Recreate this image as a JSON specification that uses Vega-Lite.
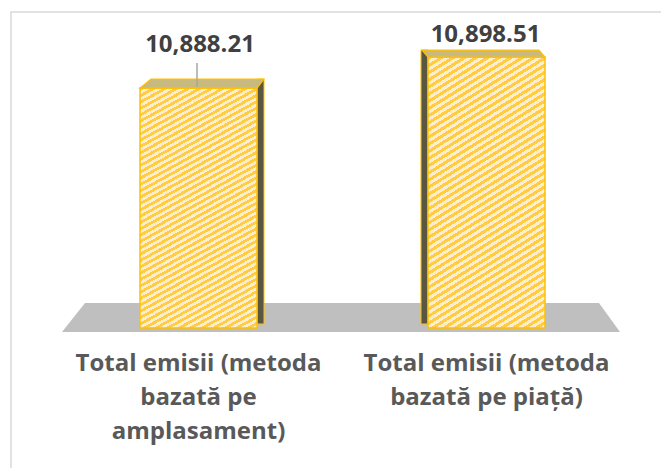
{
  "$schema": "https://vega.github.io/schema/vega-lite/v6.json",
  "width": 700,
  "height": 500,
  "autosize": {"type": "none"},
  "padding": {"left": 11, "top": 12, "right": 0, "bottom": 0},
  "background": "white",
  "config": {"view": {"stroke": "#D9D9D9", "strokeWidth": 1.5}},
  "data": {"values": [
    {"cat": "Total emisii (metoda bazată pe amplasament)", "value": 10888.21},
    {"cat": "Total emisii (metoda bazată pe piață)", "value": 10898.51}
  ]},
  "encoding": {
    "x": {"field": "cat", "type": "nominal", "sort": null,
      "scale": {"range": [43.5, 619.5], "paddingInner": 0, "paddingOuter": 0},
      "axis": {"title": null, "domain": false, "ticks": false, "tickSize": 0, "grid": false, "labelPadding": 0, "offset": -160.5, "labelAngle": 0, "labelFont": "Open Sans", "labelFontWeight": "bold", "labelFontSize": 24, "labelColor": "#595959", "labelLineHeight": 34, "labelLimit": 0, "labelOverlap": false, "labelFlush": false, "labelBaseline": "top",
        "labelExpr": "indexof(datum.value, 'amplasament') >= 0 ? ['Total emisii (metoda', 'bazată pe', 'amplasament)'] : ['Total emisii (metoda', 'bazată pe piață)']"}},
    "y": {"field": "value", "type": "quantitative", "scale": {"domain": [10747.36, 10913.49], "nice": false, "zero": false}, "axis": null}
  },
  "layer": [
    {
      "transform": [{"filter": {"field": "cat", "equal": "Total emisii (metoda bazată pe amplasament)"}}],
      "mark": {"type": "point", "shape": "M -2.805 0.04 L 2.775 0.04 L 2.565 -0.25 L -2.575 -0.25 Z", "size": 40000, "filled": true, "fill": "#BFBFBF", "opacity": 1, "strokeWidth": 0},
      "encoding": {
        "x": {"field": "cat", "type": "nominal", "sort": null, "bandPosition": 1,
          "axis": {"title": null, "domain": false, "ticks": false, "tickSize": 0, "grid": false, "labelPadding": 0, "offset": -160.5, "labelAngle": 0, "labelFont": "Open Sans", "labelFontWeight": "bold", "labelFontSize": 24, "labelColor": "#595959", "labelLineHeight": 34, "labelLimit": 0, "labelOverlap": false, "labelFlush": false, "labelBaseline": "top",
            "labelExpr": "indexof(datum.value, 'amplasament') >= 0 ? ['Total emisii (metoda', 'bazată pe', 'amplasament)'] : ['Total emisii (metoda', 'bazată pe piață)']"}},
        "y": {"datum": 10808.5}
      }
    },
    {
      "transform": [{"filter": {"field": "cat", "equal": "Total emisii (metoda bazată pe amplasament)"}}],
      "mark": {"type": "bar", "width": 7, "xOffset": 62, "yOffset": -9, "y2Offset": -4, "fill": "#5A563F", "stroke": "#FFC000", "strokeWidth": 1},
      "encoding": {"y2": {"datum": 10808.5}}
    },
    {
      "transform": [{"filter": {"field": "cat", "equal": "Total emisii (metoda bazată pe piață)"}}],
      "mark": {"type": "bar", "width": 7, "xOffset": -62, "yOffset": -7, "y2Offset": -4, "fill": "#5A563F", "stroke": "#FFC000", "strokeWidth": 1},
      "encoding": {"y2": {"datum": 10808.5}}
    },
    {
      "mark": {"type": "bar", "width": 117, "stroke": "#FFC000", "strokeWidth": 1.5,
        "fill": {"gradient": "linear", "x1": 0, "y1": 0, "x2": 0.317, "y2": 1.183, "stops": [
          {"offset":0,"color":"#fc4"},{"offset":0.0104,"color":"#fc4"},{"offset":0.0104,"color":"#fec"},{"offset":0.0208,"color":"#fec"},
          {"offset":0.0208,"color":"#fc4"},{"offset":0.0313,"color":"#fc4"},{"offset":0.0313,"color":"#fec"},{"offset":0.0417,"color":"#fec"},
          {"offset":0.0417,"color":"#fc4"},{"offset":0.0521,"color":"#fc4"},{"offset":0.0521,"color":"#fec"},{"offset":0.0625,"color":"#fec"},
          {"offset":0.0625,"color":"#fc4"},{"offset":0.0729,"color":"#fc4"},{"offset":0.0729,"color":"#fec"},{"offset":0.0833,"color":"#fec"},
          {"offset":0.0833,"color":"#fc4"},{"offset":0.0938,"color":"#fc4"},{"offset":0.0938,"color":"#fec"},{"offset":0.1042,"color":"#fec"},
          {"offset":0.1042,"color":"#fc4"},{"offset":0.1146,"color":"#fc4"},{"offset":0.1146,"color":"#fec"},{"offset":0.125,"color":"#fec"},
          {"offset":0.125,"color":"#fc4"},{"offset":0.1354,"color":"#fc4"},{"offset":0.1354,"color":"#fec"},{"offset":0.1458,"color":"#fec"},
          {"offset":0.1458,"color":"#fc4"},{"offset":0.1563,"color":"#fc4"},{"offset":0.1563,"color":"#fec"},{"offset":0.1667,"color":"#fec"},
          {"offset":0.1667,"color":"#fc4"},{"offset":0.1771,"color":"#fc4"},{"offset":0.1771,"color":"#fec"},{"offset":0.1875,"color":"#fec"},
          {"offset":0.1875,"color":"#fc4"},{"offset":0.1979,"color":"#fc4"},{"offset":0.1979,"color":"#fec"},{"offset":0.2083,"color":"#fec"},
          {"offset":0.2083,"color":"#fc4"},{"offset":0.2188,"color":"#fc4"},{"offset":0.2188,"color":"#fec"},{"offset":0.2292,"color":"#fec"},
          {"offset":0.2292,"color":"#fc4"},{"offset":0.2396,"color":"#fc4"},{"offset":0.2396,"color":"#fec"},{"offset":0.25,"color":"#fec"},
          {"offset":0.25,"color":"#fc4"},{"offset":0.2604,"color":"#fc4"},{"offset":0.2604,"color":"#fec"},{"offset":0.2708,"color":"#fec"},
          {"offset":0.2708,"color":"#fc4"},{"offset":0.2813,"color":"#fc4"},{"offset":0.2813,"color":"#fec"},{"offset":0.2917,"color":"#fec"},
          {"offset":0.2917,"color":"#fc4"},{"offset":0.3021,"color":"#fc4"},{"offset":0.3021,"color":"#fec"},{"offset":0.3125,"color":"#fec"},
          {"offset":0.3125,"color":"#fc4"},{"offset":0.3229,"color":"#fc4"},{"offset":0.3229,"color":"#fec"},{"offset":0.3333,"color":"#fec"},
          {"offset":0.3333,"color":"#fc4"},{"offset":0.3438,"color":"#fc4"},{"offset":0.3438,"color":"#fec"},{"offset":0.3542,"color":"#fec"},
          {"offset":0.3542,"color":"#fc4"},{"offset":0.3646,"color":"#fc4"},{"offset":0.3646,"color":"#fec"},{"offset":0.375,"color":"#fec"},
          {"offset":0.375,"color":"#fc4"},{"offset":0.3854,"color":"#fc4"},{"offset":0.3854,"color":"#fec"},{"offset":0.3958,"color":"#fec"},
          {"offset":0.3958,"color":"#fc4"},{"offset":0.4063,"color":"#fc4"},{"offset":0.4063,"color":"#fec"},{"offset":0.4167,"color":"#fec"},
          {"offset":0.4167,"color":"#fc4"},{"offset":0.4271,"color":"#fc4"},{"offset":0.4271,"color":"#fec"},{"offset":0.4375,"color":"#fec"},
          {"offset":0.4375,"color":"#fc4"},{"offset":0.4479,"color":"#fc4"},{"offset":0.4479,"color":"#fec"},{"offset":0.4583,"color":"#fec"},
          {"offset":0.4583,"color":"#fc4"},{"offset":0.4688,"color":"#fc4"},{"offset":0.4688,"color":"#fec"},{"offset":0.4792,"color":"#fec"},
          {"offset":0.4792,"color":"#fc4"},{"offset":0.4896,"color":"#fc4"},{"offset":0.4896,"color":"#fec"},{"offset":0.5,"color":"#fec"},
          {"offset":0.5,"color":"#fc4"},{"offset":0.5104,"color":"#fc4"},{"offset":0.5104,"color":"#fec"},{"offset":0.5208,"color":"#fec"},
          {"offset":0.5208,"color":"#fc4"},{"offset":0.5313,"color":"#fc4"},{"offset":0.5313,"color":"#fec"},{"offset":0.5417,"color":"#fec"},
          {"offset":0.5417,"color":"#fc4"},{"offset":0.5521,"color":"#fc4"},{"offset":0.5521,"color":"#fec"},{"offset":0.5625,"color":"#fec"},
          {"offset":0.5625,"color":"#fc4"},{"offset":0.5729,"color":"#fc4"},{"offset":0.5729,"color":"#fec"},{"offset":0.5833,"color":"#fec"},
          {"offset":0.5833,"color":"#fc4"},{"offset":0.5938,"color":"#fc4"},{"offset":0.5938,"color":"#fec"},{"offset":0.6042,"color":"#fec"},
          {"offset":0.6042,"color":"#fc4"},{"offset":0.6146,"color":"#fc4"},{"offset":0.6146,"color":"#fec"},{"offset":0.625,"color":"#fec"},
          {"offset":0.625,"color":"#fc4"},{"offset":0.6354,"color":"#fc4"},{"offset":0.6354,"color":"#fec"},{"offset":0.6458,"color":"#fec"},
          {"offset":0.6458,"color":"#fc4"},{"offset":0.6563,"color":"#fc4"},{"offset":0.6563,"color":"#fec"},{"offset":0.6667,"color":"#fec"},
          {"offset":0.6667,"color":"#fc4"},{"offset":0.6771,"color":"#fc4"},{"offset":0.6771,"color":"#fec"},{"offset":0.6875,"color":"#fec"},
          {"offset":0.6875,"color":"#fc4"},{"offset":0.6979,"color":"#fc4"},{"offset":0.6979,"color":"#fec"},{"offset":0.7083,"color":"#fec"},
          {"offset":0.7083,"color":"#fc4"},{"offset":0.7188,"color":"#fc4"},{"offset":0.7188,"color":"#fec"},{"offset":0.7292,"color":"#fec"},
          {"offset":0.7292,"color":"#fc4"},{"offset":0.7396,"color":"#fc4"},{"offset":0.7396,"color":"#fec"},{"offset":0.75,"color":"#fec"},
          {"offset":0.75,"color":"#fc4"},{"offset":0.7604,"color":"#fc4"},{"offset":0.7604,"color":"#fec"},{"offset":0.7708,"color":"#fec"},
          {"offset":0.7708,"color":"#fc4"},{"offset":0.7813,"color":"#fc4"},{"offset":0.7813,"color":"#fec"},{"offset":0.7917,"color":"#fec"},
          {"offset":0.7917,"color":"#fc4"},{"offset":0.8021,"color":"#fc4"},{"offset":0.8021,"color":"#fec"},{"offset":0.8125,"color":"#fec"},
          {"offset":0.8125,"color":"#fc4"},{"offset":0.8229,"color":"#fc4"},{"offset":0.8229,"color":"#fec"},{"offset":0.8333,"color":"#fec"},
          {"offset":0.8333,"color":"#fc4"},{"offset":0.8438,"color":"#fc4"},{"offset":0.8438,"color":"#fec"},{"offset":0.8542,"color":"#fec"},
          {"offset":0.8542,"color":"#fc4"},{"offset":0.8646,"color":"#fc4"},{"offset":0.8646,"color":"#fec"},{"offset":0.875,"color":"#fec"},
          {"offset":0.875,"color":"#fc4"},{"offset":0.8854,"color":"#fc4"},{"offset":0.8854,"color":"#fec"},{"offset":0.8958,"color":"#fec"},
          {"offset":0.8958,"color":"#fc4"},{"offset":0.9063,"color":"#fc4"},{"offset":0.9063,"color":"#fec"},{"offset":0.9167,"color":"#fec"},
          {"offset":0.9167,"color":"#fc4"},{"offset":0.9271,"color":"#fc4"},{"offset":0.9271,"color":"#fec"},{"offset":0.9375,"color":"#fec"},
          {"offset":0.9375,"color":"#fc4"},{"offset":0.9479,"color":"#fc4"},{"offset":0.9479,"color":"#fec"},{"offset":0.9583,"color":"#fec"},
          {"offset":0.9583,"color":"#fc4"},{"offset":0.9688,"color":"#fc4"},{"offset":0.9688,"color":"#fec"},{"offset":0.9792,"color":"#fec"},
          {"offset":0.9792,"color":"#fc4"},{"offset":0.9896,"color":"#fc4"},{"offset":0.9896,"color":"#fec"},{"offset":1,"color":"#fec"}
        ]}},
      "encoding": {"y2": {"datum": 10808.5}}
    },
    {
      "transform": [{"filter": {"field": "cat", "equal": "Total emisii (metoda bazată pe amplasament)"}}],
      "mark": {"type": "point", "shape": "M -0.585 0 L 0.585 0 L 0.655 -0.09 L -0.475 -0.09 Z", "size": 40000, "filled": true, "fill": "#C8B97F", "opacity": 1, "stroke": "#FFC000", "strokeWidth": 1.2}
    },
    {
      "transform": [{"filter": {"field": "cat", "equal": "Total emisii (metoda bazată pe piață)"}}],
      "mark": {"type": "point", "shape": "M -0.585 0 L 0.585 0 L 0.525 -0.07 L -0.645 -0.07 Z", "size": 40000, "filled": true, "fill": "#C8B97F", "opacity": 1, "stroke": "#FFC000", "strokeWidth": 1.2}
    },
    {
      "transform": [{"filter": {"field": "cat", "equal": "Total emisii (metoda bazată pe amplasament)"}}],
      "mark": {"type": "rule", "color": "#A6A6A6", "strokeWidth": 1.5, "xOffset": -1.5, "yOffset": -1, "y2Offset": -25},
      "encoding": {"y2": {"field": "value"}}
    },
    {
      "transform": [{"filter": {"field": "cat", "equal": "Total emisii (metoda bazată pe amplasament)"}}],
      "mark": {"type": "text", "font": "Open Sans", "fontWeight": "bold", "fontSize": 24, "color": "#404040", "align": "center", "baseline": "alphabetic", "dx": 1.5, "dy": -36},
      "encoding": {"text": {"field": "value", "type": "quantitative", "format": ",.2f"}}
    },
    {
      "transform": [{"filter": {"field": "cat", "equal": "Total emisii (metoda bazată pe piață)"}}],
      "mark": {"type": "text", "font": "Open Sans", "fontWeight": "bold", "fontSize": 24, "color": "#404040", "align": "center", "baseline": "alphabetic", "dx": -1, "dy": -15},
      "encoding": {"text": {"field": "value", "type": "quantitative", "format": ",.2f"}}
    }
  ]
}
